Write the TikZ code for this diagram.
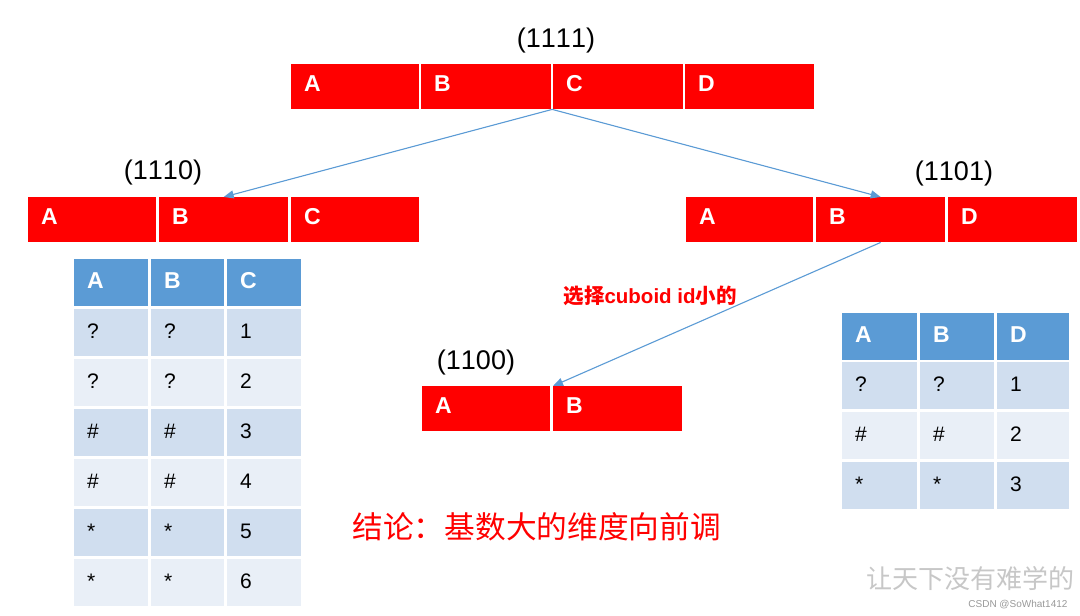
\documentclass[tikz,border=0pt]{standalone}
\usepackage{fontspec}
\setmainfont{Liberation Sans}[Kerning=Off]
\newfontfamily\cjk{Noto Sans CJK SC}
\usetikzlibrary{arrows.meta,calc}
\definecolor{barred}{HTML}{FF0000}
\definecolor{hdrblue}{HTML}{5B9BD5}
\definecolor{rowdark}{HTML}{D0DEEF}
\definecolor{rowlight}{HTML}{E9EFF7}
\definecolor{arrowblue}{HTML}{5B9BD5}
\tikzset{
  cellbase/.style={anchor=north west, inner sep=0pt, align=left},
  barcell/.style={cellbase, fill=barred, text=white,
    minimum height=45, text height=9, text depth=0,
    font=\fontsize{23}{26}\selectfont\bfseries},
  hdrcell/.style={cellbase, fill=hdrblue, text=white,
    minimum height=47, text height=11, text depth=0,
    font=\fontsize{23}{26}\selectfont\bfseries},
  darkcell/.style={cellbase, fill=rowdark, text=black,
    minimum height=47, text height=11, text depth=0,
    font=\fontsize{21}{24}\selectfont},
  lightcell/.style={darkcell, fill=rowlight},
  idlabel/.style={font=\fontsize{27}{30}\selectfont, text=black},
  conn/.style={draw=arrowblue, line width=1.1, -{Triangle[length=10,width=8]}},
}
\newcommand{\mycell}[5]{\node[#1, text width=#4, minimum width=#4] (#2) at (#3) {\hspace*{13pt}#5};}
\begin{document}
\begin{tikzpicture}[x=1pt,y=-1pt]
\useasboundingbox[fill=white] (0,0) rectangle (1080,616);

% ---------- top bar (1111)
\node[idlabel] (l1111) at (556,41) {(1111)};
\mycell{barcell}{tA}{291,64}{128}{A}
\mycell{barcell}{tB}{421,64}{130}{B}
\mycell{barcell}{tC}{553,64}{130}{C}
\mycell{barcell}{tD}{685,64}{129}{D}

% ---------- left bar (1110)
\node[idlabel] (l1110) at (163,173) {(1110)};
\mycell{barcell}{lA}{28,197}{128}{A}
\mycell{barcell}{lB}{159,197}{129}{B}
\mycell{barcell}{lC}{291,197}{128}{C}

% ---------- right bar (1101)
\node[idlabel] (l1101) at (954,174) {(1101)};
\mycell{barcell}{rA}{686,197}{127}{A}
\mycell{barcell}{rB}{816,197}{129}{B}
\mycell{barcell}{rD}{948,197}{129}{D}

% ---------- bottom bar (1100)
\node[idlabel] (l1100) at (476,363) {(1100)};
\mycell{barcell}{bA}{422,386}{128}{A}
\mycell{barcell}{bB}{553,386}{129}{B}

% ---------- connectors
\coordinate (tsplit) at ($(tB.south east)!0.5!(tC.south west)$);
\draw[conn] (tsplit) -- (lB.north);
\draw[conn] (tsplit) -- (rB.north);
\draw[conn] (rB.south) -- (bB.north west);

\node[text=barred, font=\fontsize{20.5}{24}\selectfont\bfseries, anchor=west] (choose) at (560,296)
  {{\cjk\bfseries 选择}cuboid id{\cjk\bfseries 小的}};

% ---------- left table
\mycell{hdrcell}{LhA}{74,259}{74}{A}
\mycell{hdrcell}{LhB}{151,259}{73}{B}
\mycell{hdrcell}{LhC}{227,259}{74}{C}
\foreach \i/\a/\b/\c/\s in {1/?/?/1/darkcell, 2/?/?/2/lightcell, 3/\#/\#/3/darkcell,
                          4/\#/\#/4/lightcell, 5/*/*/5/darkcell, 6/*/*/6/lightcell}{
  \pgfmathsetmacro{\yy}{259+50*\i}
  \mycell{\s}{L\i a}{74,\yy}{74}{\a}
  \mycell{\s}{L\i b}{151,\yy}{73}{\b}
  \mycell{\s}{L\i c}{227,\yy}{74}{\c}
}

% ---------- right table
\mycell{hdrcell}{RhA}{842,313}{75}{A}
\mycell{hdrcell}{RhB}{920,313}{74}{B}
\mycell{hdrcell}{RhD}{997,313}{72}{D}
\foreach \i/\a/\b/\c/\s in {1/?/?/1/darkcell, 2/\#/\#/2/lightcell, 3/*/*/3/darkcell}{
  \pgfmathsetmacro{\yy}{312+50*\i}
  \mycell{\s}{R\i a}{842,\yy}{75}{\a}
  \mycell{\s}{R\i b}{920,\yy}{74}{\b}
  \mycell{\s}{R\i c}{997,\yy}{72}{\c}
}

% ---------- conclusion
\node[text=barred, font=\cjk\fontsize{30.7}{34}\selectfont, anchor=west] (concl) at (349,527)
  {结论：基数大的维度向前调};

% ---------- watermark
\node[text=black!22, font=\cjk\fontsize{26}{30}\selectfont, anchor=east] (wm) at (1078,579)
  {让天下没有难学的};
\node[text=black!40, font=\fontsize{10}{12}\selectfont, anchor=east] (csdn) at (1071,605)
  {CSDN @SoWhat1412};
\end{tikzpicture}
\end{document}
